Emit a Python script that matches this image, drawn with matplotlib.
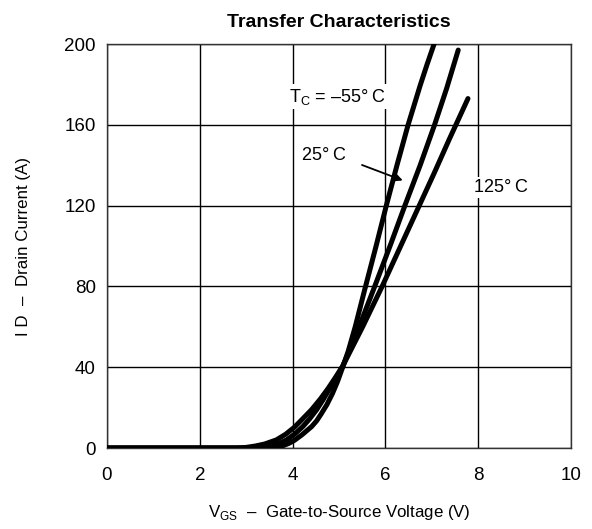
import matplotlib
matplotlib.use("Agg")
import matplotlib.pyplot as plt

plt.rcParams['font.family'] = ['Liberation Sans', 'DejaVu Sans']
plt.rcParams['mathtext.fontset'] = 'custom'
plt.rcParams['mathtext.rm'] = 'Liberation Sans'

# Data
vgs_m55 = [0, 3.5, 3.65, 3.8, 3.92, 4.04, 4.2, 4.41, 4.52, 4.62, 4.74, 4.86, 4.97, 5.08,
           5.2, 5.35, 5.55, 5.8, 6.02, 6.25, 6.49, 6.75, 6.9, 7.05]
id_m55 = [0, 0, 0.4, 1.2, 2.3, 3.8, 6.5, 10.6, 13.5, 17, 21.5, 27, 33, 40,
          48, 60, 78, 100, 120, 140, 160, 179.5, 190, 200]

vgs_25 = [0, 3.2, 3.4, 3.6, 3.75, 3.87, 4.05, 4.22, 4.37, 4.52, 4.66, 4.8, 4.94, 5.08,
          5.24, 5.4, 5.77, 6.1, 6.42, 6.75, 7.06, 7.32, 7.57]
id_25 = [0, 0, 0.5, 1.5, 2.7, 4, 7, 10.6, 14.5, 19, 24, 29.5, 35, 40.5,
         49, 58, 80, 100, 120, 140, 160, 178, 197]

vgs_125 = [0, 2.8, 3.0, 3.2, 3.4, 3.65, 3.85, 4.04, 4.22, 4.41, 4.6, 4.76, 4.92, 5.08,
           5.3, 5.51, 5.72, 5.93, 6.33, 6.73, 7.05, 7.38, 7.58, 7.78]
id_125 = [0, 0, 0.3, 1, 2, 4, 6.8, 10.3, 14.5, 19, 24.3, 29.3, 34.8, 40.5,
          50.5, 60, 70, 80, 100, 120, 136, 153, 163, 173]

xticks = [0, 2, 4, 6, 8, 10]
yticks = [0, 40, 80, 120, 160, 200]

fig = plt.figure(figsize=(5.92, 5.29), dpi=100)
ax = fig.add_axes([0.1807, 0.1531, 0.7838, 0.7637])

for v, i in [(vgs_m55, id_m55), (vgs_25, id_25), (vgs_125, id_125)]:
    ax.plot(v, i, color='black', lw=3.6, solid_capstyle='round', solid_joinstyle='round', zorder=3)

ax.set_xlim(0, 10)
ax.set_ylim(0, 200)
ax.set_xticks(xticks)
ax.set_yticks(yticks)
ax.tick_params(axis='y', length=0, labelsize=13.5, pad=8)
ax.tick_params(axis='x', length=0, labelsize=13.5, pad=14)
ax.grid(True, color='black', lw=1.0)
ax.set_axisbelow(True)
for s in ax.spines.values():
    s.set_linewidth(1.0)
    s.set_color('#333333')

ax.set_title('Transfer Characteristics', fontsize=14, fontweight='bold', pad=12)
ax.set_xlabel(r'V$_\mathregular{GS}$  –  Gate-to-Source Voltage (V)', fontsize=12.2, labelpad=13)
ax.set_ylabel('I D  –  Drain Current (A)', fontsize=12.2, labelpad=24)

bbox = dict(facecolor='white', edgecolor='none', pad=1.5)
ax.text(3.92, 174, 'T$_\\mathregular{C}$ = –55°\u2009C', fontsize=13, va='center', ha='left', bbox=bbox, zorder=2)
ax.text(4.2, 145, '25°\u2009C', fontsize=13, va='center', ha='left', bbox=bbox, zorder=2)
ax.text(7.9, 129, '125°\u2009C', fontsize=13, va='center', ha='left', bbox=bbox, zorder=2)
ax.annotate('', xy=(6.43, 132), xytext=(5.44, 140.6),
            arrowprops=dict(arrowstyle='-|>', color='black', lw=1.3, mutation_scale=10))

fig.savefig('out.png', dpi=100)
